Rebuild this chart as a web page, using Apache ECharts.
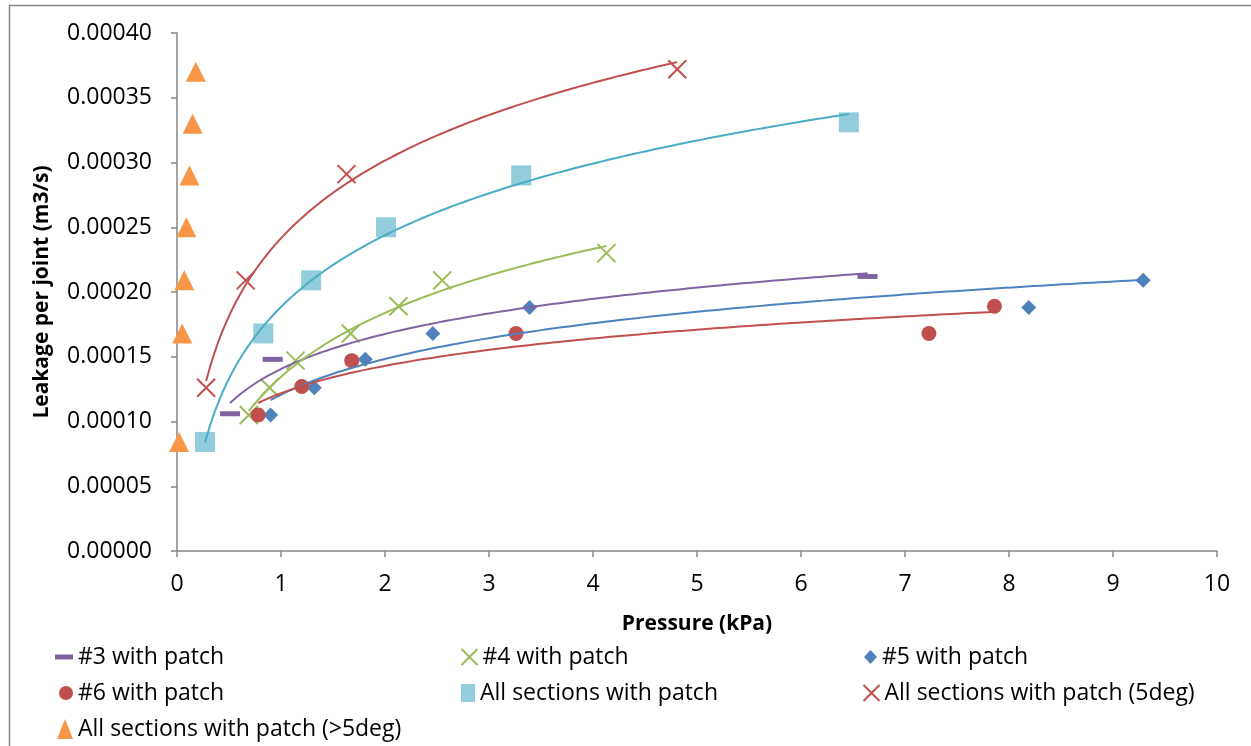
<!DOCTYPE html>
<html>
<head>
<meta charset="utf-8">
<script src="https://cdn.jsdelivr.net/npm/echarts@6/dist/echarts.min.js"></script>
<style>html,body{margin:0;padding:0;background:#fff}#c{width:1251px;height:746px}</style>
</head>
<body>
<div id="c"></div>
<script>
// ---- data (pressure kPa, leakage m3/s) ----
const seriesNames = ['#3 with patch', '#4 with patch', '#5 with patch', '#6 with patch',
  'All sections with patch', 'All sections with patch (5deg)', 'All sections with patch (>5deg)'];
const s3X = [0.51, 0.92, 6.64];
const s3Y = [0.000106, 0.000148, 0.000212];
const s4X = [0.69, 0.89, 1.14, 1.67, 2.13, 2.55, 4.13];
const s4Y = [0.000105, 0.000126, 0.000147, 0.000168, 0.000189, 0.000209, 0.000230];
const s5X = [0.90, 1.32, 1.81, 2.46, 3.39, 8.19, 9.29];
const s5Y = [0.000105, 0.000126, 0.000148, 0.000168, 0.000188, 0.000188, 0.000209];
const s6X = [0.78, 1.20, 1.68, 3.26, 7.23, 7.86];
const s6Y = [0.000105, 0.000127, 0.000147, 0.000168, 0.000168, 0.000189];
const allX = [0.27, 0.83, 1.29, 2.01, 3.31, 6.46];
const allY = [0.0000842, 0.000168, 0.000209, 0.000250, 0.000290, 0.000331];
const d5X = [0.28, 0.66, 1.63, 4.81];
const d5Y = [0.000126, 0.000209, 0.000291, 0.000372];
const gt5X = [0.02, 0.05, 0.07, 0.09, 0.12, 0.15, 0.18];
const gt5Y = [0.0000842, 0.000168, 0.000209, 0.000250, 0.000290, 0.000330, 0.000370];
const xAxisMin = 0, xAxisMax = 10, xAxisStep = 1;
const yAxisMin = 0, yAxisMax = 0.0004, yAxisStep = 0.00005;
const yTickDecimals = 5;

// ---- helpers ----
const FONT = 'Open Sans';
function pairs(xs, ys) { return xs.map((x, i) => [x, ys[i]]); }
// Excel-style logarithmic trendline (least squares on ln x), sampled over the data range
function logTrend(xs, ys) {
  const n = xs.length, lx = xs.map(Math.log);
  const mx = lx.reduce((a, b) => a + b, 0) / n, my = ys.reduce((a, b) => a + b, 0) / n;
  let sxy = 0, sxx = 0;
  for (let i = 0; i < n; i++) { sxy += (lx[i] - mx) * (ys[i] - my); sxx += (lx[i] - mx) ** 2; }
  const a = sxy / sxx, b = my - a * mx;
  const x0 = Math.min(...xs), x1 = Math.max(...xs), out = [];
  for (let k = 0; k <= 120; k++) { const x = x0 + (x1 - x0) * k / 120; out.push([x, a * Math.log(x) + b]); }
  return out;
}

const XPATH = 'path://M0,0L20,20M20,0L0,20';
const markers = [
  { name: seriesNames[0], data: pairs(s3X, s3Y), symbol: 'rect', symbolSize: [20, 5], itemStyle: { color: '#8064A2', opacity: 1 } },
  { name: seriesNames[1], data: pairs(s4X, s4Y), symbol: XPATH, symbolSize: 18, itemStyle: { color: 'none', borderColor: '#9BBB59', borderWidth: 2, opacity: 1 } },
  { name: seriesNames[2], data: pairs(s5X, s5Y), symbol: 'diamond', symbolSize: 15, itemStyle: { color: '#4F81BD', opacity: 1 } },
  { name: seriesNames[3], data: pairs(s6X, s6Y), symbol: 'circle', symbolSize: 15, itemStyle: { color: '#C0504D', opacity: 1 } },
  { name: seriesNames[4], data: pairs(allX, allY), symbol: 'rect', symbolSize: 20, itemStyle: { color: '#93CDDD', opacity: 1 } },
  { name: seriesNames[5], data: pairs(d5X, d5Y), symbol: XPATH, symbolSize: 18, itemStyle: { color: 'none', borderColor: '#C0504D', borderWidth: 2, opacity: 1 } },
  { name: seriesNames[6], data: pairs(gt5X, gt5Y), symbol: 'triangle', symbolSize: 20, itemStyle: { color: '#F79646', opacity: 1 } }
];
const trends = [
  { data: logTrend(s3X, s3Y), color: '#8064A2' },
  { data: logTrend(s4X, s4Y), color: '#9BBB59' },
  { data: logTrend(s5X, s5Y), color: '#4F81BD' },
  { data: logTrend(s6X, s6Y), color: '#C0504D' },
  { data: logTrend(allX, allY), color: '#4BACC6' },
  { data: logTrend(d5X, d5Y), color: '#C0504D' }
];

const series = [];
markers.forEach(m => series.push(Object.assign({ type: 'scatter', z: 2, silent: true }, m)));
trends.forEach(t => series.push({
  type: 'line', data: t.data, showSymbol: false, symbol: 'none', silent: true, z: 3,
  lineStyle: { color: t.color, width: 2 }
}));

// legend layout: [textStartX, rowCenterY, iconW, iconH]
const legendLayout = [
  [78, 657, 18, 5], [480, 657, 16, 16], [882, 657, 13, 14],
  [78, 693, 14, 15], [480, 693, 14, 18], [882, 693, 16, 16],
  [78, 729, 16, 20]
];
const legends = seriesNames.map((n, i) => {
  const [tx, cy, w, h] = legendLayout[i];
  return {
    data: [n], left: tx - 5 - w, top: cy - 16, itemWidth: w, itemHeight: h, padding: 0,
    selectedMode: false,
    textStyle: { fontFamily: FONT, fontSize: 23, color: '#000', lineHeight: 32 }
  };
});

const axisGray = '#868686';
const option = {
  animation: false,
  backgroundColor: '#fff',
  grid: { left: 177, right: 34, top: 33, bottom: 195, containLabel: false },
  xAxis: {
    type: 'value', min: xAxisMin, max: xAxisMax, interval: xAxisStep,
    name: 'Pressure (kPa)', nameLocation: 'middle', nameGap: 63,
    nameTextStyle: { fontFamily: FONT, fontSize: 21, fontWeight: 'bold', color: '#000' },
    axisLine: { show: true, lineStyle: { color: axisGray, width: 1.5 } },
    axisTick: { show: true, length: 6, lineStyle: { color: axisGray, width: 1.5 } },
    axisLabel: { fontFamily: FONT, fontSize: 23, color: '#000', margin: 22 },
    splitLine: { show: false }
  },
  yAxis: {
    type: 'value', min: yAxisMin, max: yAxisMax, interval: yAxisStep,
    name: 'Leakage per joint (m3/s)', nameLocation: 'middle', nameGap: 124,
    nameTextStyle: { fontFamily: FONT, fontSize: 21, fontWeight: 'bold', color: '#000' },
    axisLine: { show: true, lineStyle: { color: axisGray, width: 1.5 } },
    axisTick: { show: true, length: 6, lineStyle: { color: axisGray, width: 1.5 } },
    axisLabel: { fontFamily: FONT, fontSize: 23, color: '#000', margin: 25,
      formatter: v => v.toFixed(yTickDecimals) },
    splitLine: { show: false }
  },
  legend: legends,
  graphic: [{
    type: 'rect', left: 7, top: 3, silent: true, z: -1,
    shape: { width: 1400, height: 900 },
    style: { fill: 'none', stroke: '#868686', lineWidth: 1.5 }
  }],
  series: series
};
echarts.init(document.getElementById('c'), null, { renderer: 'canvas' }).setOption(option);
</script>
</body>
</html>
